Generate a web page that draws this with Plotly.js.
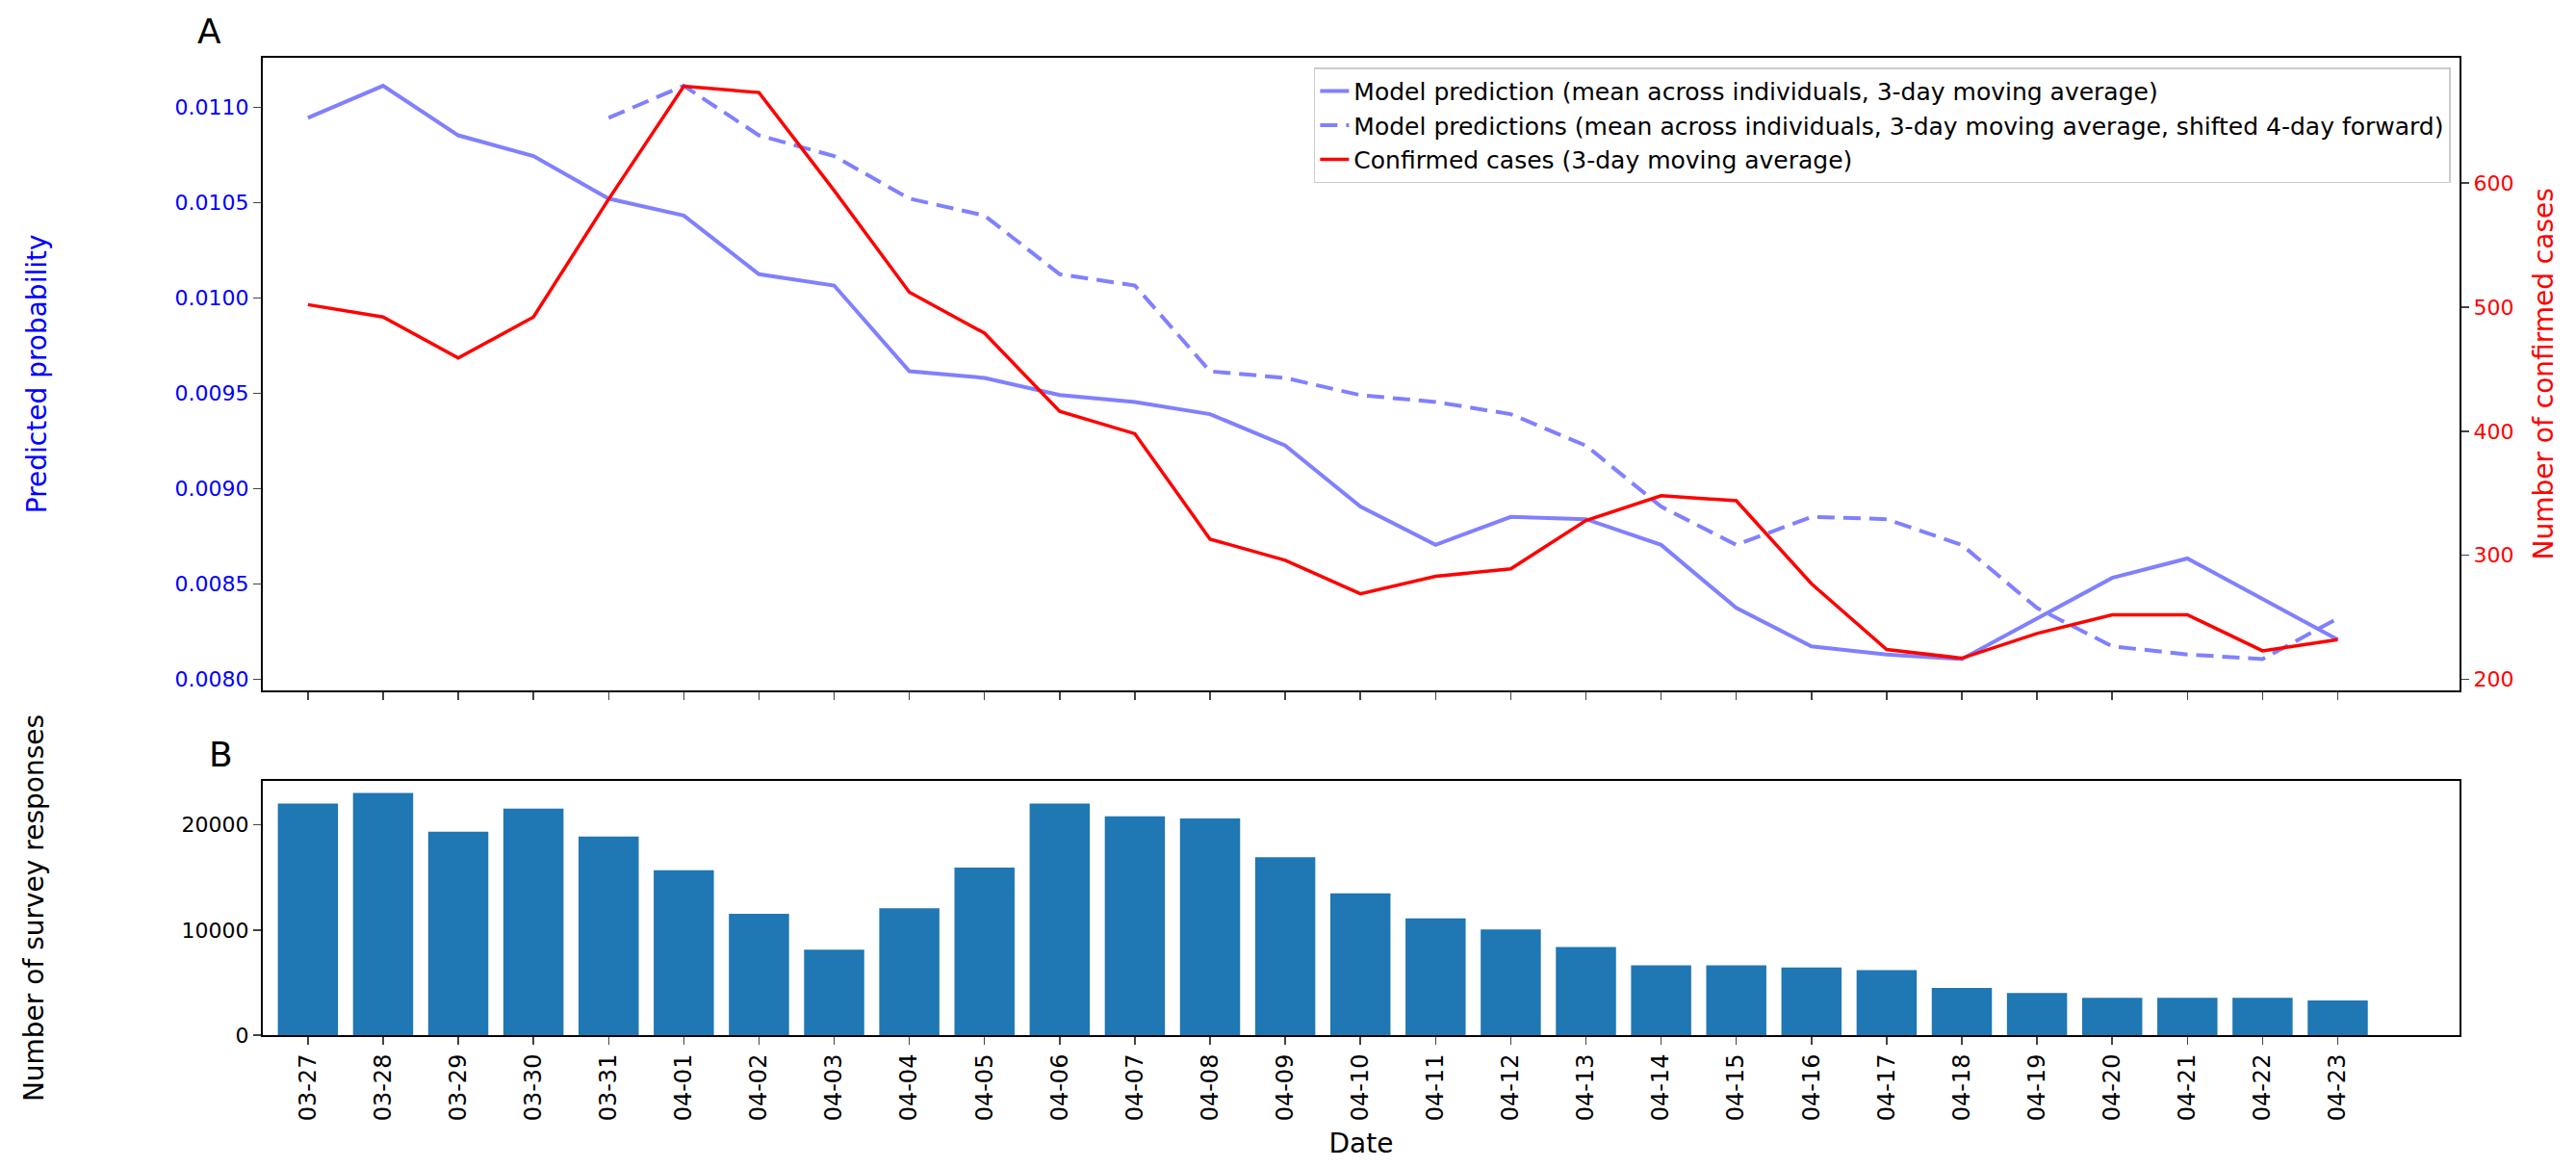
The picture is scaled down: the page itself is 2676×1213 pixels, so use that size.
<!DOCTYPE html>
<html>
<head>
<meta charset="utf-8">
<script src="https://cdn.plot.ly/plotly-3.0.1.min.js"></script>
<style>html,body{margin:0;padding:0;background:#fff;}</style>
</head>
<body>
<div id="chart" style="width:2676px;height:1213px;"></div>
<script>
// dates on the shared x axis
const dates = ['03-27','03-28','03-29','03-30','03-31','04-01','04-02','04-03','04-04','04-05',
  '04-06','04-07','04-08','04-09','04-10','04-11','04-12','04-13','04-14','04-15',
  '04-16','04-17','04-18','04-19','04-20','04-21','04-22','04-23'];

// model prediction, 3-day moving average
const predicted = [0.010946, 0.011114, 0.010854, 0.010745, 0.010522, 0.010433, 0.010125, 0.010066,
  0.009616, 0.009581, 0.009491, 0.009455, 0.009391, 0.009226, 0.008906, 0.008705, 0.008852,
  0.008840, 0.008705, 0.008374, 0.008173, 0.008130, 0.008106, 0.008319, 0.008532, 0.008634,
  0.008421, 0.008208];

// shifted 4 days forward (starts at 03-31)
const shiftedDates = dates.slice(4);
const shifted = [0.010946, 0.011114, 0.010854, 0.010745, 0.010522, 0.010433, 0.010125, 0.010066,
  0.009616, 0.009581, 0.009491, 0.009455, 0.009391, 0.009226, 0.008906, 0.008705, 0.008852,
  0.008840, 0.008705, 0.008374, 0.008173, 0.008130, 0.008106, 0.008319];

// confirmed cases, 3-day moving average
const confirmed = [502, 492, 459, 492, 587, 678, 673, 594, 512, 479, 416, 398, 313, 296, 269,
  283, 289, 328, 348, 344, 277, 224, 217, 237, 252, 252, 223, 232];

// survey responses per day
const responses = [22040, 23050, 19360, 21550, 18900, 15700, 11550, 8140, 12070, 15950, 22040,
  20820, 20610, 16920, 13500, 11100, 10060, 8380, 6650, 6650, 6430, 6190, 4480, 4000, 3540,
  3540, 3540, 3290];

const font = 'DejaVu Sans, sans-serif';
const idx = dates.map((d, i) => i);
const shiftedIdx = shiftedDates.map(d => dates.indexOf(d));
const xr = [-0.6, 28.62];

const traces = [
  { x: idx, y: predicted, type: 'scatter', mode: 'lines', xaxis: 'x', yaxis: 'y',
    name: 'Model prediction (mean across individuals, 3-day moving average)',
    line: { color: '#8080ff', width: 4 } },
  { x: shiftedIdx, y: shifted, type: 'scatter', mode: 'lines', xaxis: 'x', yaxis: 'y',
    name: 'Model predictions (mean across individuals, 3-day moving average, shifted 4-day forward)',
    line: { color: '#8080ff', width: 4, dash: '18px,9px' } },
  { x: idx, y: confirmed, type: 'scatter', mode: 'lines', xaxis: 'x', yaxis: 'y2',
    name: 'Confirmed cases (3-day moving average)',
    line: { color: '#ff0000', width: 3.5 } },
  { x: idx, y: responses, type: 'bar', xaxis: 'x2', yaxis: 'y3', width: 0.8,
    marker: { color: '#1f77b4' }, showlegend: false }
];

const box = { showline: true, mirror: true, linecolor: '#000', linewidth: 2, zeroline: false,
  showgrid: false, ticks: 'outside', ticklen: 8, tickwidth: 1.5 };

const layout = {
  width: 2676, height: 1213,
  margin: { l: 273, r: 121, t: 60, b: 138 },
  paper_bgcolor: '#fff', plot_bgcolor: '#fff',
  font: { family: font, size: 22, color: '#000' },
  xaxis: Object.assign({}, box, { domain: [0, 1], anchor: 'y', range: xr,
    tickvals: idx, showticklabels: false }),
  yaxis: Object.assign({}, box, { domain: [0.353, 1], range: [0.007943, 0.011261],
    tickvals: [0.008, 0.0085, 0.009, 0.0095, 0.01, 0.0105, 0.011], tickformat: '.4f',
    tickfont: { color: '#0000ff', size: 22 }, mirror: false,
    title: { text: 'Predicted probability', font: { color: '#0000ff', size: 28 }, standoff: 125 } }),
  yaxis2: Object.assign({}, box, { overlaying: 'y', side: 'right', anchor: 'x',
    range: [191.3, 701], tickvals: [200, 300, 400, 500, 600], mirror: false,
    tickfont: { color: '#ff0000', size: 22 },
    title: { text: 'Number of confirmed cases', font: { color: '#ff0000', size: 28 }, standoff: 22 } }),
  xaxis2: Object.assign({}, box, { domain: [0, 1], anchor: 'y3', range: xr,
    tickvals: idx, ticktext: dates, tickangle: -90, tickfont: { size: 24 },
    title: { text: 'Date', font: { size: 28 }, standoff: 14 } }),
  yaxis3: Object.assign({}, box, { domain: [0, 0.26], range: [0, 24177],
    tickvals: [0, 10000, 20000], tickformat: 'd',
    title: { text: 'Number of survey responses', font: { size: 28 }, standoff: 135 } }),
  legend: { x: 0.996, y: 0.99, xanchor: 'right', yanchor: 'top',
    bgcolor: 'rgba(255,255,255,0.8)', bordercolor: '#ccc', borderwidth: 1.5,
    font: { size: 25 }, tracegroupgap: 0 },
  annotations: [
    { text: 'A', xref: 'paper', yref: 'paper', x: 0, y: 1.005, xanchor: 'left',
      yanchor: 'bottom', showarrow: false, font: { size: 36 }, xshift: -70 },
    { text: 'B', xref: 'paper', yref: 'paper', x: 0, y: 0.265, xanchor: 'left',
      yanchor: 'bottom', showarrow: false, font: { size: 36 }, xshift: -58 }
  ]
};

Plotly.newPlot('chart', traces, layout, { staticPlot: true });
</script>
</body>
</html>
